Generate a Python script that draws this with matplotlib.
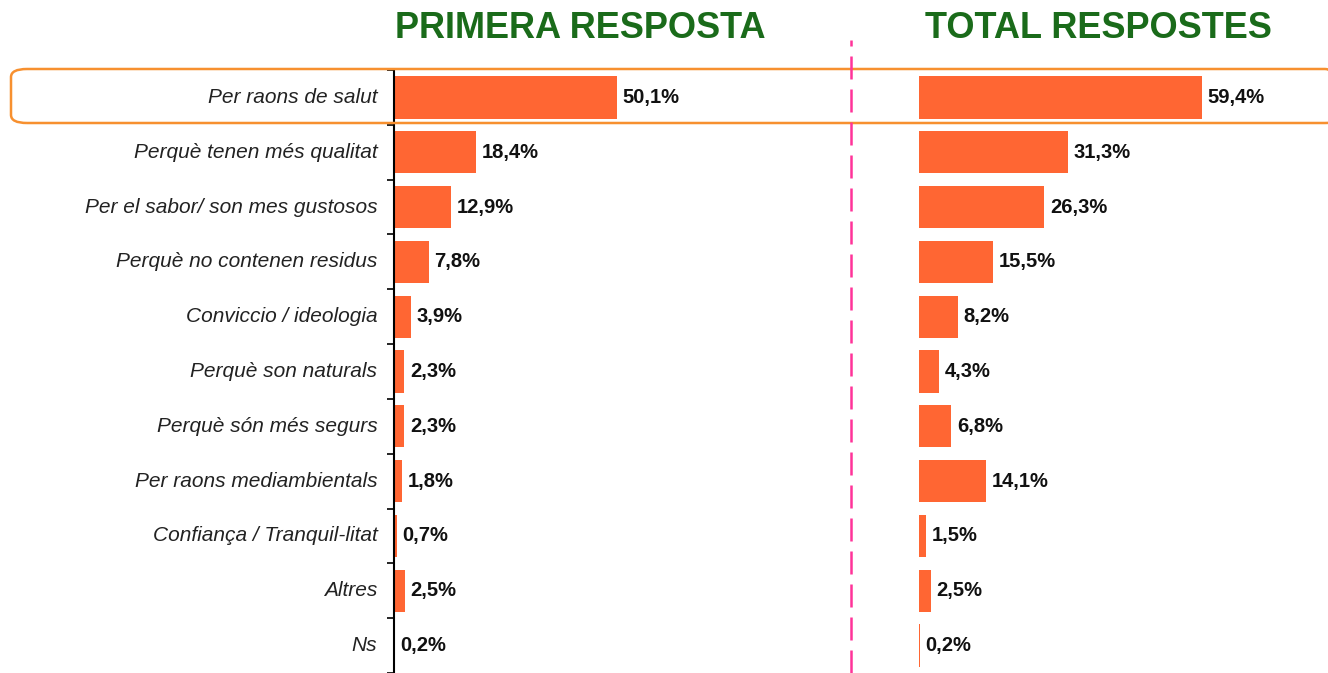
import matplotlib.pyplot as plt
from matplotlib.patches import FancyBboxPatch
from matplotlib.lines import Line2D

plt.rcParams['font.family'] = ['Liberation Sans', 'DejaVu Sans']

categories = ['Per raons de salut', 'Perquè tenen més qualitat', 'Per el sabor/ son mes gustosos',
              'Perquè no contenen residus', 'Conviccio / ideologia', 'Perquè son naturals',
              'Perquè són més segurs', 'Per raons mediambientals', 'Confiança / Tranquil-litat',
              'Altres', 'Ns']
primera = [50.1, 18.4, 12.9, 7.8, 3.9, 2.3, 2.3, 1.8, 0.7, 2.5, 0.2]
total = [59.4, 31.3, 26.3, 15.5, 8.2, 4.3, 6.8, 14.1, 1.5, 2.5, 0.2]

W, H = 1328, 673
bar_color = '#FF6633'
green = '#1A6B1A'

fig = plt.figure(figsize=(W / 100, H / 100), dpi=100)

# axes geometry in pixels
top, bottom = 70, 673
ax1 = fig.add_axes([394 / W, 0, 445 / W, (bottom - top) / H])
ax2 = fig.add_axes([919 / W, 0, 381 / W, (bottom - top) / H])

ypos = list(range(len(categories)))

def fmt(v):
    return f'{v:.1f}%'.replace('.', ',')

for ax, vals, xmax in [(ax1, primera, 100), (ax2, total, 80)]:
    ax.barh(ypos, vals, height=0.77, color=bar_color, linewidth=0)
    ax.set_xlim(0, xmax)
    ax.set_ylim(len(categories) - 0.5, -0.5)
    for s in ['top', 'right', 'bottom']:
        ax.spines[s].set_visible(False)
    ax.set_xticks([])
    for i, v in enumerate(vals):
        ax.annotate(fmt(v), (v, i), xytext=(4, 0), textcoords='offset points',
                    va='center', ha='left', fontsize=14.5, fontweight='bold', color='#111111')

ax1.spines['left'].set_color('black')
ax1.spines['left'].set_linewidth(1.5)
ax1.set_yticks([i - 0.5 for i in range(len(categories) + 1)])
ax1.set_yticklabels([])
ax1.tick_params(axis='y', length=5, width=1.2, direction='out')
for i, c in enumerate(categories):
    ax1.annotate(c, (0, i), xytext=(-12, 0), textcoords='offset points',
                 ha='right', va='center', fontsize=15, style='italic', color='#222222')

ax2.spines['left'].set_visible(False)
ax2.set_yticks([])

# titles
fig.text(580 / W, 1 - 28 / H, 'PRIMERA RESPOSTA', ha='center', va='center',
         fontsize=26, fontweight='bold', color=green)
fig.text(1098 / W, 1 - 28 / H, 'TOTAL RESPOSTES', ha='center', va='center',
         fontsize=26, fontweight='bold', color=green)

# dashed separator
fig.add_artist(Line2D([851 / W, 851 / W], [0, 1 - 40 / H], color='#FF3399',
                      lw=1.8, linestyle=(0, (9.2, 4))))

# highlight box around first row
box = FancyBboxPatch((11 / W, 1 - 123 / H), 1330 / W, 54 / H,
                     boxstyle='round,pad=0,rounding_size=0.012',
                     transform=fig.transFigure, facecolor='none',
                     edgecolor='#F7902F', lw=1.8, clip_on=False)
fig.add_artist(box)

fig.savefig('out.png', dpi=100)
